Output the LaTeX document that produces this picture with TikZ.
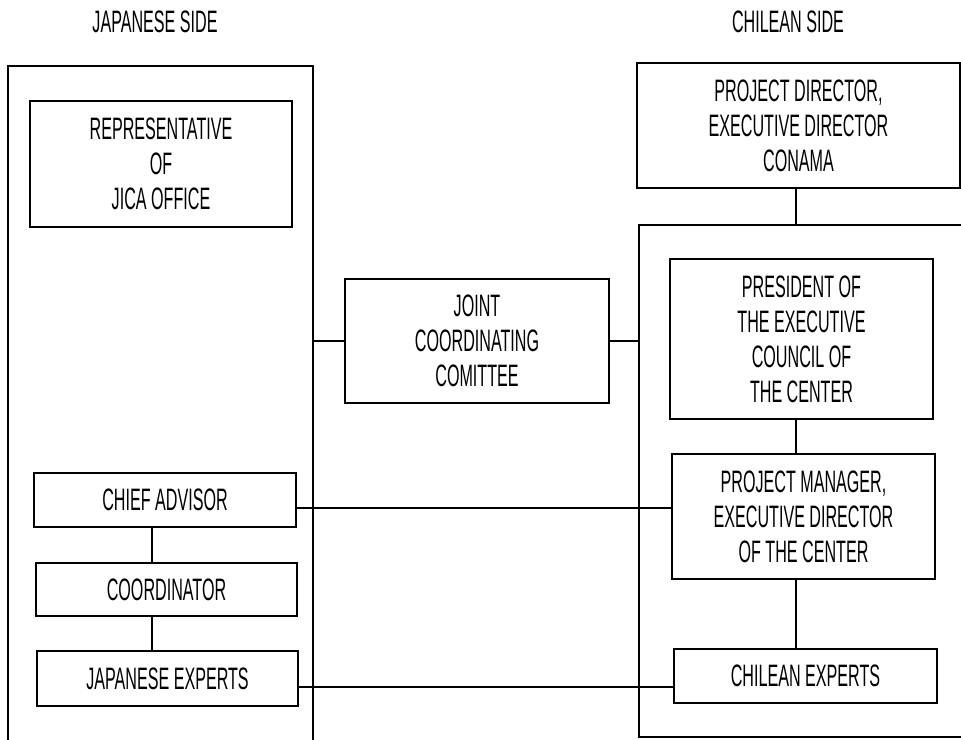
\documentclass[tikz,border=0pt]{standalone}
\usepackage{fontspec}
\setmainfont{Liberation Sans}[FakeStretch=0.52]
\begin{document}
\begin{tikzpicture}[x=1pt,y=-1pt,
  box/.style={draw, line width=1.6pt, inner sep=0pt, align=center,
    font=\fontsize{31}{35}\selectfont},
  frame/.style={draw, line width=1.9pt, inner sep=0pt},
  title/.style={inner sep=0pt, font=\fontsize{31}{35}\selectfont},
  link/.style={line width=1.6pt}]
\useasboundingbox (0,0) rectangle (961,739);
\clip (0,0) rectangle (961,739);

% side headings
\node[title] (jpt) at (155,22) {JAPANESE SIDE};
\node[title] (clt) at (788,22) {CHILEAN SIDE};

% the two side frames (partly running off the sheet)
\node[frame, minimum width=305pt, minimum height=694pt] (lframe) at (160.5,413) {};
\node[frame, minimum width=351pt, minimum height=512pt] (rframe) at (814.5,481) {};

% Japanese side
\node[box, minimum width=262pt, minimum height=126pt] (jica) at (161,164)
  {REPRESENTATIVE\\OF\\JICA OFFICE};
\node[box, minimum width=262pt, minimum height=54pt] (chief) at (165,500) {CHIEF ADVISOR};
\node[box, minimum width=261pt, minimum height=53pt] (coord) at (166.5,589.5) {COORDINATOR};
\node[box, minimum width=261pt, minimum height=55pt] (jexp) at (167.5,678.5) {JAPANESE EXPERTS};

% joint committee
\node[box, minimum width=264pt, minimum height=124pt] (joint) at (477,341)
  {JOINT\\COORDINATING\\COMITTEE};

% Chilean side
\node[box, minimum width=323pt, minimum height=125pt] (pd) at (798.5,125.5)
  {PROJECT DIRECTOR,\\EXECUTIVE DIRECTOR\\CONAMA};
\node[box, minimum width=263pt, minimum height=160pt] (pres) at (801.5,339)
  {PRESIDENT OF\\THE EXECUTIVE\\COUNCIL OF\\THE CENTER};
\node[box, minimum width=263pt, minimum height=125pt] (pm) at (803.5,516.5)
  {PROJECT MANAGER,\\EXECUTIVE DIRECTOR\\OF THE CENTER};
\node[box, minimum width=263pt, minimum height=54pt] (ce) at (805.5,676) {CHILEAN EXPERTS};

% connector guide positions
\coordinate (lcol) at (152,0);
\coordinate (rcol) at (796,0);
\coordinate (ca) at (0,508);
\coordinate (ex) at (0,687);

% connectors
\draw[link] (joint.west) -- (joint.west -| lframe.east);
\draw[link] (joint.east) -- (joint.east -| rframe.west);
\draw[link] (pd.south -| rcol) -- (rframe.north -| rcol);
\draw[link] (pres.south -| rcol) -- (pm.north -| rcol);
\draw[link] (pm.south -| rcol) -- (ce.north -| rcol);
\draw[link] (chief.south -| lcol) -- (coord.north -| lcol);
\draw[link] (coord.south -| lcol) -- (jexp.north -| lcol);
\draw[link] (chief.east |- ca) -- (pm.west |- ca);
\draw[link] (jexp.east |- ex) -- (ce.west |- ex);
\end{tikzpicture}
\end{document}
